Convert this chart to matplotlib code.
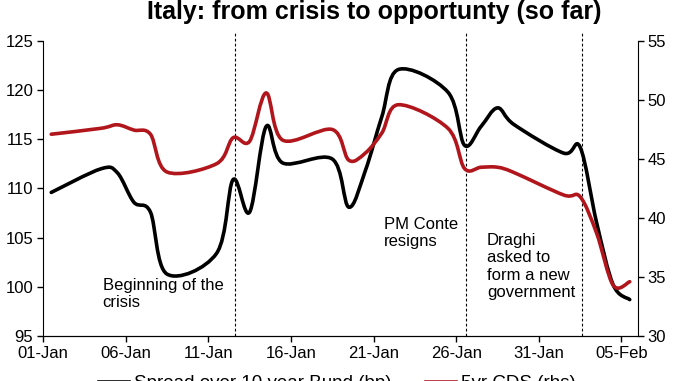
import numpy as np
import pandas as pd
import matplotlib
matplotlib.use('Agg')
import matplotlib.pyplot as plt
from matplotlib.path import Path
from matplotlib.patches import PathPatch
from matplotlib.lines import Line2D

plt.rcParams['font.family'] = ['Liberation Sans', 'DejaVu Sans']

# data
dates = pd.to_datetime([
    '2021-01-01', '2021-01-04', '2021-01-05', '2021-01-06', '2021-01-07', '2021-01-08',
    '2021-01-11', '2021-01-12', '2021-01-13', '2021-01-14', '2021-01-15',
    '2021-01-18', '2021-01-19', '2021-01-20', '2021-01-21', '2021-01-22',
    '2021-01-25', '2021-01-26', '2021-01-27', '2021-01-28', '2021-01-29',
    '2021-02-01', '2021-02-02', '2021-02-03', '2021-02-04', '2021-02-05'])
spread = [109.6, 112.0, 111.6, 108.6, 107.6, 101.3,
          103.4, 110.9, 107.6, 116.3, 112.6,
          113.0, 108.1, 111.8, 117.3, 122.1,
          119.8, 114.4, 116.3, 118.2, 116.5,
          113.6, 114.2, 106.5, 100.2, 98.7]
cds = [47.1, 47.6, 47.9, 47.45, 47.1, 43.9,
       44.6, 46.8, 46.5, 50.6, 46.6,
       47.5, 44.9, 45.5, 47.2, 49.6,
       47.6, 44.2, 44.3, 44.3, 43.85,
       41.95, 41.8, 38.7, 34.3, 34.6]
tick_labels = ['01-Jan', '06-Jan', '11-Jan', '16-Jan', '21-Jan', '26-Jan', '31-Jan', '05-Feb']
events = ['Beginning of the\ncrisis', 'PM Conte\nresigns',
          'Draghi\nasked to\nform a new\ngovernment']
event_days = [11.6, 25.6, 32.6]

start = pd.Timestamp('2021-01-01')
xd = (dates - start).days.values + 0.5

red = '#b0161c'


def smooth_path(x, y):
    # excel style smoothed line: cubic bezier through every point
    pts = np.column_stack([x, y]).astype(float)
    n = len(pts)
    verts = [pts[0]]
    codes = [Path.MOVETO]
    for i in range(n - 1):
        p0 = pts[i - 1] if i > 0 else pts[i]
        p1 = pts[i]
        p2 = pts[i + 1]
        p3 = pts[i + 2] if i + 2 < n else pts[i + 1]
        verts += [p1 + (p2 - p0) / 6., p2 - (p3 - p1) / 6., p2]
        codes += [Path.CURVE4] * 3
    return Path(verts, codes)


fig = plt.figure(figsize=(6.78, 3.81), dpi=100)
ax = fig.add_axes([43 / 678, 1 - 336 / 381, 595 / 678, 295 / 381])
ax2 = ax.twinx()

ax.add_patch(PathPatch(smooth_path(xd, spread), fill=False, edgecolor='black',
                       lw=2.6, capstyle='round', joinstyle='round'))
ax2.add_patch(PathPatch(smooth_path(xd, cds), fill=False, edgecolor=red,
                        lw=2.6, capstyle='round', joinstyle='round'))

ax.set_xlim(0, 36)
ax.set_ylim(95, 125)
ax2.set_ylim(30, 55)
ax.set_xticks(np.arange(0, 36, 5))
ax.set_xticklabels(tick_labels)
ax.set_yticks(np.arange(95, 126, 5))
ax2.set_yticks(np.arange(30, 56, 5))

for d in event_days:
    ax.plot([d, d], [95, 126], ls=(0, (2.5, 2)), color='black', lw=0.8, clip_on=False)

ax.text(3.6, 100.9, events[0], fontsize=12, va='top', ha='left')
ax.text(20.65, 107.1, events[1], fontsize=12, va='top', ha='left')
ax.text(26.85, 105.5, events[2], fontsize=12, va='top', ha='left')

for a in (ax, ax2):
    a.spines['top'].set_visible(False)
    a.tick_params(labelsize=12, length=4, width=1, pad=3, colors='black')
ax2.spines['left'].set_visible(False)
ax.spines['right'].set_visible(False)

fig.text(374 / 678, 1 - 19.5 / 381, 'Italy: from crisis to opportunty (so far)',
         fontsize=18, fontweight='bold', ha='center', va='baseline')

handles = [Line2D([], [], color='black', lw=2.6), Line2D([], [], color=red, lw=2.6)]
fig.legend(handles, ['Spread over 10 year Bund (bp)', '5yr CDS (rhs)'],
           loc='upper left', bbox_to_anchor=(99 / 678, 1 - 375 / 381), ncol=2,
           frameon=False, fontsize=13.5, handlelength=1.6, handletextpad=0.25,
           columnspacing=1.85, borderpad=0, borderaxespad=0)

fig.savefig('out.png', dpi=100)
